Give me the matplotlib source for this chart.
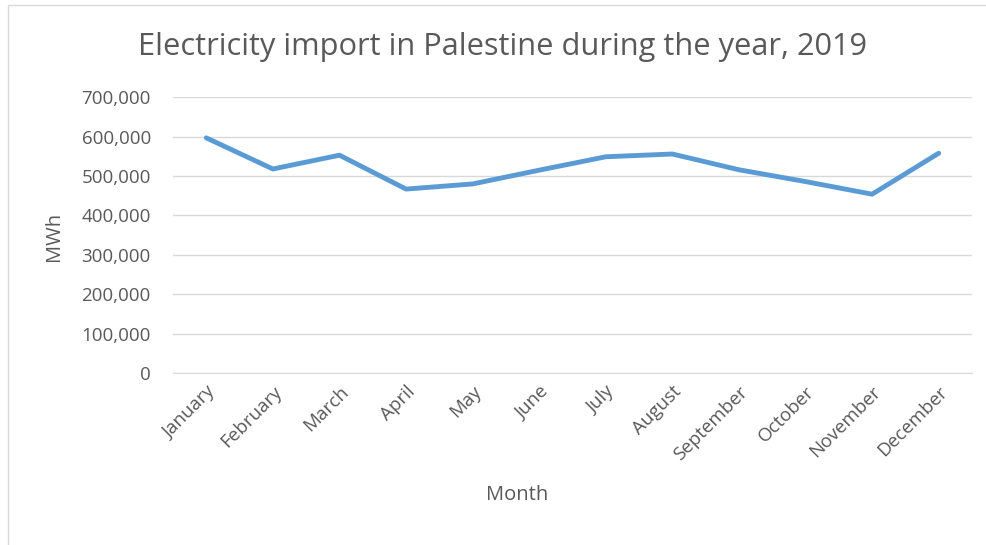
import matplotlib
matplotlib.use("Agg")
import matplotlib.pyplot as plt
from matplotlib.ticker import FuncFormatter
from matplotlib.patches import Rectangle
from matplotlib.transforms import ScaledTranslation

months = ["January", "February", "March", "April", "May", "June", "July",
          "August", "September", "October", "November", "December"]
import_mwh = [597000, 518000, 553000, 467000, 480000, 515000, 549000,
              556000, 516000, 486000, 454000, 558000]
yticks = [0, 100000, 200000, 300000, 400000, 500000, 600000, 700000]

plt.rcParams['font.family'] = ['Open Sans', 'DejaVu Sans']
txt = '#595959'

fig = plt.figure(figsize=(9.87, 5.45), dpi=100)
ax = fig.add_axes([173/987, 1-373/545, 799/987, (373-97.3)/545])

x = list(range(len(months)))
ax.plot(x, import_mwh, color='#5B9BD5', lw=3.5, solid_capstyle='round', solid_joinstyle='round', zorder=3)
ax.set_xlim(-0.5, len(months)-0.5)
ax.set_ylim(0, 700000)
ax.set_yticks(yticks)
ax.yaxis.set_major_formatter(FuncFormatter(lambda v, p: f"{int(v):,}"))
ax.set_xticks(x)
ax.set_xticklabels(months, rotation=45, ha='right', rotation_mode='anchor')
for lab in ax.get_xticklabels():
    lab.set_transform(lab.get_transform() + ScaledTranslation(8/100, 0, fig.dpi_scale_trans))
ax.grid(axis='y', color='#D9D9D9', lw=1)
ax.set_axisbelow(True)
for s in ['top', 'right', 'left']:
    ax.spines[s].set_visible(False)
ax.spines['bottom'].set_color('#D9D9D9')
ax.tick_params(axis='both', length=0, colors=txt, labelsize=13.5)
ax.tick_params(axis='y', pad=16)
ax.tick_params(axis='x', pad=7)
ax.set_ylabel('MWh', color=txt, fontsize=14.5)
ax.yaxis.set_label_coords(54/987, 1-236/545, transform=fig.transFigure)
ax.set_xlabel('Month', color=txt, fontsize=14.5)
ax.xaxis.set_label_coords(517/987, 1-495/545, transform=fig.transFigure)
ax.xaxis.label.set_va('center')
ax.yaxis.label.set_va('center')
t = fig.text(503/987, 1-47/545, 'Electricity import in Palestine during the year, 2019',
         ha='center', va='center', color=txt, fontsize=20)
fig.canvas.draw()
w = t.get_window_extent().width
t.set_fontsize(20 * 726 / w)

fig.patches.append(Rectangle((8/987, -0.01), 1.0, 1-5/545+0.01, transform=fig.transFigure,
                             fill=False, edgecolor='#D9D9D9', lw=1))
fig.savefig('out.png', dpi=100)
